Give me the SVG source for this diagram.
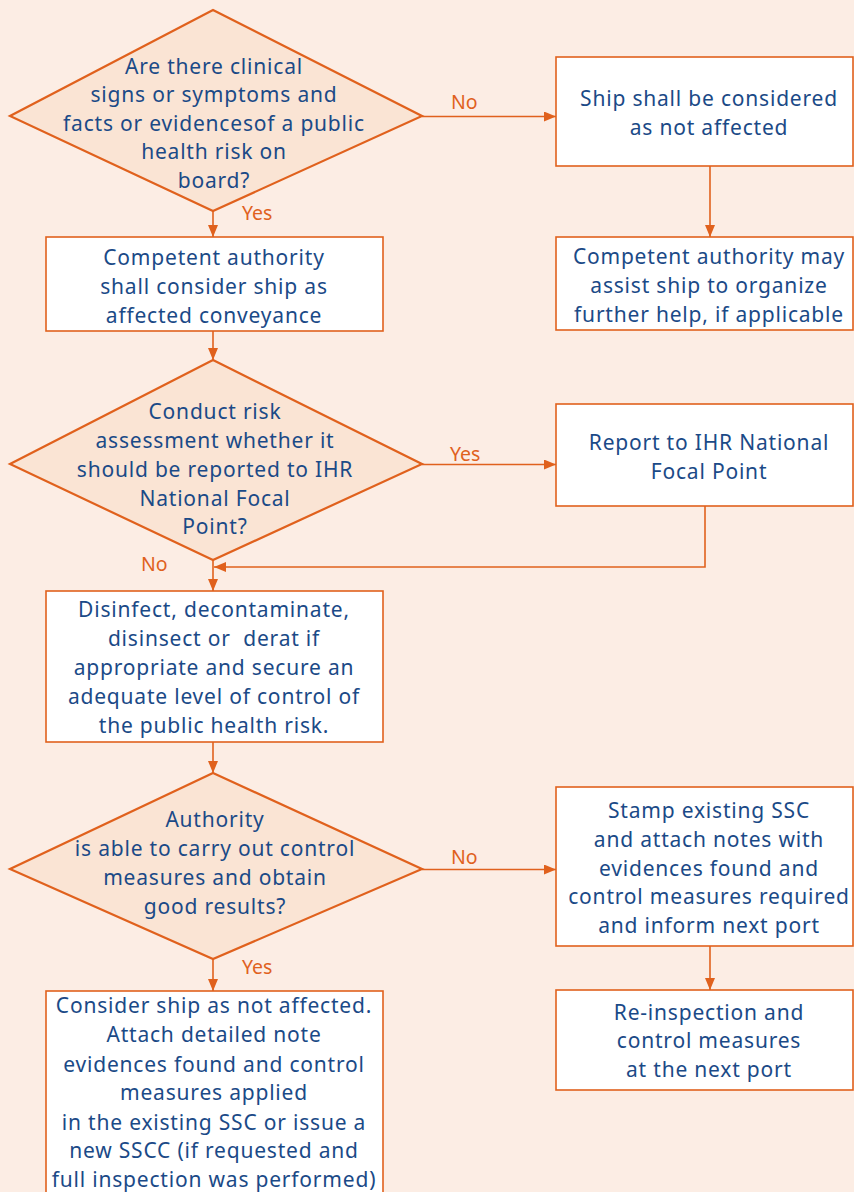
<svg xmlns="http://www.w3.org/2000/svg" width="854" height="1192" viewBox="0 0 854 1192">
<style>
.bg{fill:#FCEDE4}
.dia{fill:#FAE4D4;stroke:#E0611D;stroke-width:2.2}
.box{fill:#FFFFFF;stroke:#E0611D;stroke-width:1.6}
.t{font-family:"Noto Sans","Open Sans",Lato,"Liberation Sans",sans-serif;font-size:21px;letter-spacing:0.8px;fill:#1B4A87;text-anchor:middle}
.lbl{font-family:"Noto Sans","Open Sans",Lato,"Liberation Sans",sans-serif;font-size:19.5px;fill:#E0611D}
.c{fill:none;stroke:#E0611D;stroke-width:1.6}
</style>
<defs>
<marker id="ah" viewBox="0 0 12 10" refX="12" refY="5" markerWidth="12" markerHeight="10" markerUnits="userSpaceOnUse" orient="auto">
<path d="M0,0 L12,5 L0,10 z" fill="#E0611D"/>
</marker>
</defs>
<rect class="bg" x="0" y="0" width="854" height="1192"/>

<g id="connectors">
<line class="c" x1="213" y1="211" x2="213" y2="237" marker-end="url(#ah)"/>
<line class="c" x1="422" y1="116.5" x2="556" y2="116.5" marker-end="url(#ah)"/>
<line class="c" x1="710" y1="166" x2="710" y2="237" marker-end="url(#ah)"/>
<line class="c" x1="213" y1="331" x2="213" y2="360" marker-end="url(#ah)"/>
<line class="c" x1="422" y1="464.5" x2="556" y2="464.5" marker-end="url(#ah)"/>
<polyline class="c" points="705,506 705,567 214,567" marker-end="url(#ah)"/>
<line class="c" x1="213" y1="560" x2="213" y2="591" marker-end="url(#ah)"/>
<line class="c" x1="213" y1="742" x2="213" y2="773" marker-end="url(#ah)"/>
<line class="c" x1="422" y1="869.5" x2="556" y2="869.5" marker-end="url(#ah)"/>
<line class="c" x1="213" y1="959" x2="213" y2="991" marker-end="url(#ah)"/>
<line class="c" x1="710" y1="946" x2="710" y2="990" marker-end="url(#ah)"/>
<text class="lbl" x="242" y="220">Yes</text>
<text class="lbl" x="451" y="109">No</text>
<text class="lbl" x="450" y="461">Yes</text>
<text class="lbl" x="141" y="571">No</text>
<text class="lbl" x="451" y="864">No</text>
<text class="lbl" x="242" y="974">Yes</text>
</g>

<g id="d1">
<polygon class="dia" points="213,10 422,116 213,211 10,116"/>
<text class="t"><tspan x="214" y="74">Are there clinical</tspan><tspan x="214" y="102">signs or symptoms and</tspan><tspan x="214" y="131">facts or evidencesof a public</tspan><tspan x="214" y="159">health risk on</tspan><tspan x="214" y="188">board?</tspan></text>
</g>

<g id="b1">
<rect class="box" x="46" y="237" width="337" height="94"/>
<text class="t"><tspan x="214" y="265">Competent authority</tspan><tspan x="214" y="294">shall consider ship as</tspan><tspan x="214" y="323">affected conveyance</tspan></text>
</g>

<g id="r1">
<rect class="box" x="556" y="57" width="297" height="109"/>
<text class="t"><tspan x="709" y="106">Ship shall be considered</tspan><tspan x="709" y="135">as not affected</tspan></text>
</g>

<g id="r2">
<rect class="box" x="556" y="237" width="297" height="93"/>
<text class="t"><tspan x="709" y="264">Competent authority may</tspan><tspan x="709" y="293">assist ship to organize</tspan><tspan x="709" y="322">further help, if applicable</tspan></text>
</g>

<g id="d2">
<polygon class="dia" points="213,360 422,464 213,560 10,464"/>
<text class="t"><tspan x="215" y="419">Conduct risk</tspan><tspan x="215" y="448">assessment whether it</tspan><tspan x="215" y="477">should be reported to IHR</tspan><tspan x="215" y="506">National Focal</tspan><tspan x="215" y="534">Point?</tspan></text>
</g>

<g id="r3">
<rect class="box" x="556" y="404" width="297" height="102"/>
<text class="t"><tspan x="709" y="450">Report to IHR National</tspan><tspan x="709" y="479">Focal Point</tspan></text>
</g>

<g id="b2">
<rect class="box" x="46" y="591" width="337" height="151"/>
<text class="t"><tspan x="214" y="617">Disinfect, decontaminate,</tspan><tspan x="214" y="646">disinsect or&#160; derat if</tspan><tspan x="214" y="675">appropriate and secure an</tspan><tspan x="214" y="704">adequate level of control of</tspan><tspan x="214" y="733">the public health risk.</tspan></text>
</g>

<g id="d3">
<polygon class="dia" points="213,773 422,869 213,959 10,869"/>
<text class="t"><tspan x="215" y="827">Authority</tspan><tspan x="215" y="856">is able to carry out control</tspan><tspan x="215" y="885">measures and obtain</tspan><tspan x="215" y="914">good results?</tspan></text>
</g>

<g id="r4">
<rect class="box" x="556" y="787" width="297" height="159"/>
<text class="t"><tspan x="709" y="818">Stamp existing SSC</tspan><tspan x="709" y="847">and attach notes with</tspan><tspan x="709" y="876">evidences found and</tspan><tspan x="709" y="904">control measures required</tspan><tspan x="709" y="933">and inform next port</tspan></text>
</g>

<g id="r5">
<rect class="box" x="556" y="990" width="297" height="100"/>
<text class="t"><tspan x="709" y="1020">Re-inspection and</tspan><tspan x="709" y="1048">control measures</tspan><tspan x="709" y="1077">at the next port</tspan></text>
</g>

<g id="b3">
<rect class="box" x="46" y="991" width="337" height="210"/>
<text class="t"><tspan x="214" y="1013">Consider ship as not affected.</tspan><tspan x="214" y="1042">Attach detailed note</tspan><tspan x="214" y="1072">evidences found and control</tspan><tspan x="214" y="1100">measures applied</tspan><tspan x="214" y="1130">in the existing SSC or issue a</tspan><tspan x="214" y="1158">new SSCC (if requested and</tspan><tspan x="214" y="1187">full inspection was performed)</tspan></text>
</g>
</svg>
